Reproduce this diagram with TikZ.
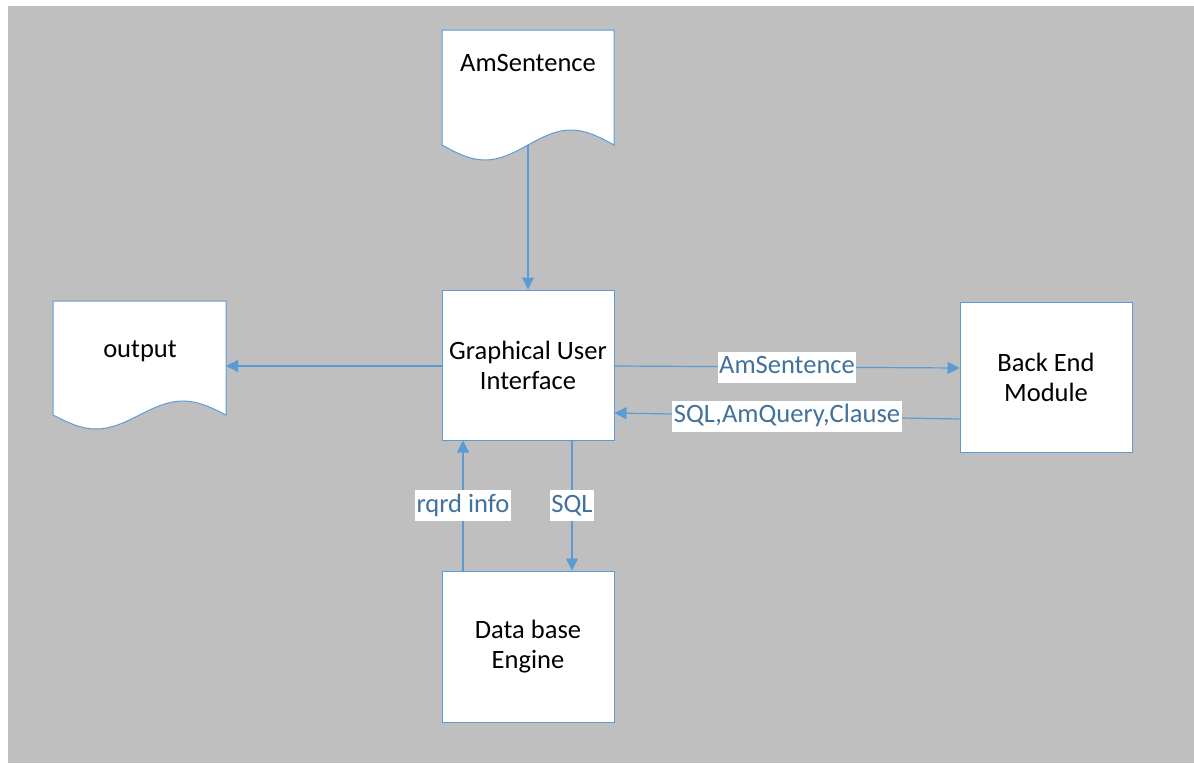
\documentclass[tikz,border=0pt]{standalone}
\usepackage{fontspec}
\setmainfont{Carlito}
\usetikzlibrary{arrows.meta}
\definecolor{bggray}{HTML}{BFBFBF}
\definecolor{edgeblue}{HTML}{5B9BD5}
\definecolor{labelblue}{HTML}{41719C}
\begin{document}
\begin{tikzpicture}[x=1pt,y=-1pt,
  txt/.style={font=\fontsize{26.5}{30}\selectfont, text=black},
  box/.style={txt, draw=edgeblue, fill=white, line width=1pt,
    minimum width=172pt, align=center, inner sep=0pt},
  docshape/.style={draw=edgeblue, fill=white, line width=1pt},
  doctext/.style={txt, inner sep=0pt},
  flow/.style={draw=edgeblue, line width=1.2pt,
    -{Triangle[length=12pt,width=12pt]}},
  lbl/.style={font=\fontsize{26.5}{30}\selectfont, text=labelblue, fill=white,
    inner xsep=1.5pt, inner ysep=3pt, text height=19pt, text depth=6pt}
]
% canvas
\fill[white] (0,0) rectangle (1194,763);
\fill[bggray] (8,6) rectangle (1194,763);
\useasboundingbox (0,0) rectangle (1194,763);

% process boxes
\node[box, minimum height=150pt] (gui) at (528,365) {Graphical User\\Interface};
\node[box, minimum height=150pt] (bem) at (1046,377) {Back End\\Module};
\node[box, minimum height=151pt] (db) at (528,646.5) {Data base\\Engine};

% document shapes with a wavy lower edge
\path[docshape] (442,30) -- (614,30) -- (614,145)
  sin (571,130) cos (528,145) sin (485,160) cos (442,145) -- cycle;
\node[doctext] (amdoc) at (528,63) {AmSentence};
\coordinate (amwave) at (528,145);

\path[docshape] (53,301) -- (226,301) -- (226,415)
  sin (183,401) cos (139.5,415) sin (96,429) cos (53,415) -- cycle;
\node[doctext] (outdoc) at (140,351) {output};
\coordinate (outin) at (226,366);

% connectors
\draw[flow] (amwave) -- (gui.north);
\draw[flow] ([yshift=-1pt]gui.west) -- (outin);
\draw[flow] ([yshift=-1pt]gui.east) -- node[lbl] {AmSentence} ([yshift=9pt]bem.west);
\draw[flow] ([yshift=-42pt]bem.west) -- node[lbl] {SQL,AmQuery,Clause} ([yshift=-48pt]gui.east);
\draw[flow] ([xshift=-65pt]db.north) -- node[lbl] {rqrd info} ([xshift=-65pt]gui.south);
\draw[flow] ([xshift=44pt]gui.south) -- node[lbl] {SQL} ([xshift=44pt]db.north);
\end{tikzpicture}
\end{document}
